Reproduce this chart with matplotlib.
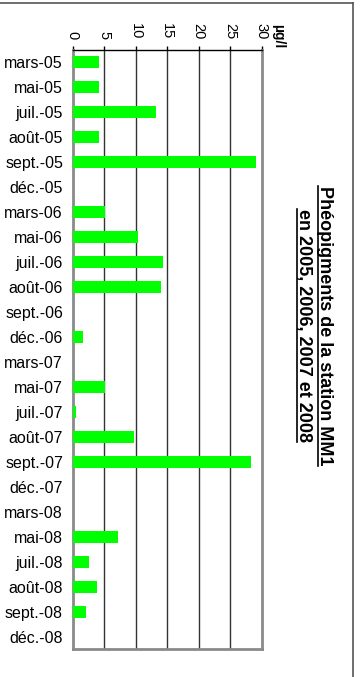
import matplotlib
matplotlib.use("Agg")
import matplotlib.pyplot as plt
from matplotlib.lines import Line2D
import numpy as np

plt.rcParams['font.family'] = ['Liberation Sans', 'DejaVu Sans']

# Sampling campaigns (station MM1)
categories = ["mars-05", "mai-05", "juil.-05", "août-05", "sept.-05", "déc.-05",
              "mars-06", "mai-06", "juil.-06", "août-06", "sept.-06", "déc.-06",
              "mars-07", "mai-07", "juil.-07", "août-07", "sept.-07", "déc.-07",
              "mars-08", "mai-08", "juil.-08", "août-08", "sept.-08", "déc.-08"]
# Phaeopigments concentration, µg/l
values = [4.2, 4.2, 13.2, 4.2, 29.1, 0.0,
          5.2, 10.3, 14.3, 14.0, 0.0, 1.6,
          0.0, 5.2, 0.6, 9.7, 28.3, 0.0,
          0.0, 7.2, 2.6, 3.9, 2.1, 0.0]
xticks = [0, 5, 10, 15, 20, 25, 30]
title_lines = ["Phéopigments de la station MM1", "en 2005, 2006, 2007 et 2008"]
unit_label = "µg/l"

W, H = 360, 677
fig = plt.figure(figsize=(W / 100, H / 100), dpi=100)
fig.patch.set_facecolor("white")

ax = fig.add_axes([72.7 / W, 1 - 649 / H, 188.8 / W, 599 / H])
pos = np.arange(len(categories))
ax.barh(pos, values, height=0.48, color="#00ff00", zorder=3)

ax.set_xlim(0, 30)
ax.set_ylim(len(categories) - 0.5, -0.5)
ax.set_yticks(pos)
ax.set_yticklabels(categories, fontsize=11.5)
ax.tick_params(axis="y", length=0, pad=7)

ax.xaxis.tick_top()
ax.set_xticks(xticks)
ax.set_xticklabels([str(t) for t in xticks], rotation=-90, fontsize=10.5)
ax.tick_params(axis="x", direction="out", length=3, width=1, color="black", pad=5)

for t in xticks[1:-1]:
    ax.axvline(t, color="#333333", lw=1.0, zorder=1)

for side in ("left", "right", "bottom"):
    ax.spines[side].set_color("#8a8a8a")
    ax.spines[side].set_linewidth(2.0)
ax.spines["top"].set_color("black")
ax.spines["top"].set_linewidth(1.0)

# Unit label beside the value axis
fig.text(278 / W, 1 - 36 / H, unit_label, rotation=-90, fontsize=10,
         fontweight="bold", ha="center", va="center")

# Title, rotated and underlined
fig.canvas.draw()
renderer = fig.canvas.get_renderer()
for line, bx in zip(title_lines, (320.0, 298.5)):
    txt = fig.text(bx / W, 1 - 326 / H, line, rotation=-90, fontsize=13,
                   fontweight="bold", ha="center", va="baseline",
                   rotation_mode="anchor")
    bb = txt.get_window_extent(renderer)
    ux = (bx - 1.8) / W
    fig.add_artist(Line2D([ux, ux], [bb.y0 / H, bb.y1 / H], color="black",
                          lw=1.2, transform=fig.transFigure))

# Outer frame (top and right edges)
fig.add_artist(Line2D([0, 353 / W], [1 - 3 / H, 1 - 3 / H], color="#555555",
                      lw=1.2, transform=fig.transFigure))
fig.add_artist(Line2D([353 / W, 353 / W], [0, 1 - 3 / H], color="#555555",
                      lw=1.2, transform=fig.transFigure))

fig.savefig("out.png", dpi=100, facecolor="white")
